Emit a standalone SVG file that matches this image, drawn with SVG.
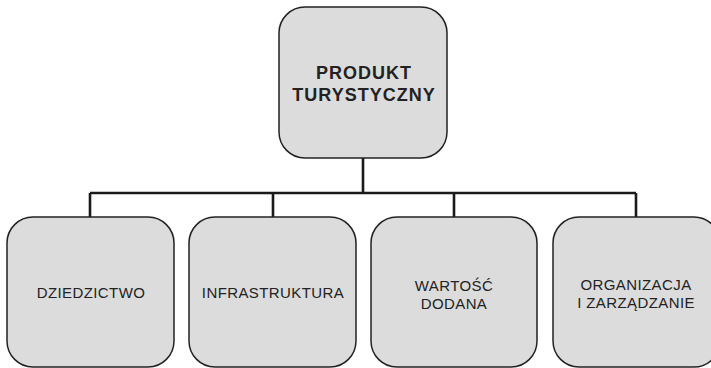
<svg xmlns="http://www.w3.org/2000/svg" width="711" height="368" viewBox="0 0 711 368">
<style>
.box{fill:#dcdcdc;stroke:#222;stroke-width:1.5}
.con{fill:none;stroke:#1a1a1a;stroke-width:2.6}
.t{font-family:"Liberation Sans",Arial,sans-serif;font-size:15px;fill:#222;text-anchor:middle;letter-spacing:0.4px}
.tb{font-family:"Liberation Sans",Arial,sans-serif;font-size:18px;font-weight:bold;fill:#222;text-anchor:middle;letter-spacing:1px}
</style>
<rect width="711" height="368" fill="#fff"/>
<g id="connectors">
<path class="con" d="M363 158V193M90 193H636M90 193V217M273 193V217M454 193V217M636 193V217"/>
</g>
<g id="root">
<rect class="box" x="279" y="7" width="168" height="151" rx="26"/>
<text class="tb" x="364" y="79">PRODUKT</text>
<text class="tb" x="364" y="101">TURYSTYCZNY</text>
</g>
<g id="n1">
<rect class="box" x="7" y="217" width="167" height="150" rx="26"/>
<text class="t" x="91" y="298">DZIEDZICTWO</text>
</g>
<g id="n2">
<rect class="box" x="189" y="217" width="167" height="150" rx="26"/>
<text class="t" x="273" y="298">INFRASTRUKTURA</text>
</g>
<g id="n3">
<rect class="box" x="371" y="217" width="166" height="150" rx="26"/>
<text class="t" x="454" y="291">WARTOŚĆ</text>
<text class="t" x="454" y="309">DODANA</text>
</g>
<g id="n4">
<rect class="box" x="553" y="217" width="167" height="150" rx="26"/>
<text class="t" x="636" y="290">ORGANIZACJA</text>
<text class="t" x="636" y="308">I ZARZĄDZANIE</text>
</g>
</svg>
